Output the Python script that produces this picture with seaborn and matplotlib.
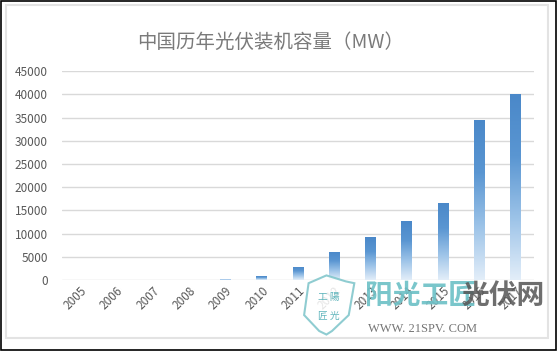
import numpy as np
import pandas as pd
import matplotlib
matplotlib.use("Agg")
import matplotlib.pyplot as plt
import seaborn as sns
from matplotlib.patches import Rectangle, Polygon

# -----------------------------
# data
# -----------------------------
years = ["2005", "2006", "2007", "2008", "2009", "2010", "2011",
         "2012", "2013", "2014", "2015", "2016", "2017"]
capacity_mw = [5, 10, 20, 40, 300, 800, 2900,
               6100, 9200, 12700, 16600, 34500, 40000]
y_ticks = [0, 5000, 10000, 15000, 20000, 25000, 30000, 35000, 40000, 45000]

title = "中国历年光伏装机容量（MW）"

df = pd.DataFrame({"year": years, "mw": capacity_mw})

sns.set_theme(style="white")
plt.rcParams["font.family"] = ["Noto Sans CJK SC", "DejaVu Sans"]

fig = plt.figure(figsize=(5.58, 3.54), dpi=100)
ax = fig.add_axes([0.111, 0.209, 0.846, 0.590])

sns.barplot(data=df, x="year", y="mw", width=0.3, color="#5b9bd5", ax=ax,
            zorder=2)

# gradient fill: dark blue at top -> pale at the bottom
grad = np.linspace(0, 1, 256).reshape(-1, 1)
cmap = matplotlib.colors.LinearSegmentedColormap.from_list(
    "bar", ["#e3eef9", "#9cc3e8", "#5a96d2", "#4a88c9"])
for p in ax.patches:
    x0, y0 = p.get_x(), p.get_y()
    w, h = p.get_width(), p.get_height()
    p.set_facecolor("none")
    p.set_edgecolor("none")
    im = ax.imshow(grad, cmap=cmap, origin="lower", aspect="auto",
                   extent=[x0, x0 + w, y0, y0 + h], zorder=2)
    im.set_clip_path(p)

ax.set_xlim(-0.5, len(years) - 0.5)
ax.set_ylim(0, 45000)
ax.set_yticks(y_ticks)
ax.set_yticklabels([str(v) for v in y_ticks])
ax.yaxis.grid(True, color="#d9d9d9", linewidth=1.0, zorder=0)
ax.set_axisbelow(True)
sns.despine(ax=ax, left=True, bottom=True)
ax.set_xlabel("")
ax.set_ylabel("")
ax.tick_params(axis="y", labelsize=8.5, colors="#595959", length=0, pad=10)
ax.tick_params(axis="x", labelsize=8.5, colors="#595959", length=0, pad=3)
plt.setp(ax.get_xticklabels(), rotation=45, ha="right", rotation_mode="anchor")

fig.text(0.485, 0.88, title, ha="center", va="center", fontsize=14,
         fontweight="light", color="#7a7a7a")

# frames
fig.patches.append(Rectangle((0.011, 0.045), 0.971, 0.94, transform=fig.transFigure,
                             fill=False, edgecolor="#e3e3e3", linewidth=1.5))
fig.patches.append(Rectangle((0.002, 0.012), 0.995, 0.984, transform=fig.transFigure,
                             fill=False, edgecolor="black", linewidth=1.2))

# watermark (sits on top of the x labels, as in the original)
shield = Polygon([(0.553, 0.20), (0.585, 0.222), (0.62, 0.205), (0.635, 0.20),
                  (0.625, 0.11), (0.595, 0.065), (0.585, 0.055), (0.572, 0.065),
                  (0.545, 0.11)], closed=True, transform=fig.transFigure,
                 fill=True, facecolor="white", edgecolor="#7cc4c9",
                 linewidth=1.5, alpha=0.85, zorder=5)
fig.patches.append(shield)
fig.text(0.589, 0.16, "工 陽", ha="center", va="center", fontsize=7,
         color="#5fb5bc", zorder=6)
fig.text(0.589, 0.107, "匠 光", ha="center", va="center", fontsize=7,
         color="#5fb5bc", zorder=6)
fig.text(0.655, 0.165, "阳光工匠", ha="left", va="center", fontsize=20,
         fontweight="bold", color="#6cc0c6", alpha=0.9, zorder=6)
fig.text(0.827, 0.165, "光伏网", ha="left", va="center", fontsize=20,
         fontweight="bold", color="#555555", alpha=0.85, zorder=6)
fig.text(0.66, 0.072, "WWW. 21SPV. COM", ha="left", va="center", fontsize=9,
         family=["Liberation Serif", "DejaVu Serif"], color="#666666",
         alpha=0.9, zorder=6)

fig.savefig("out.png", dpi=100)
